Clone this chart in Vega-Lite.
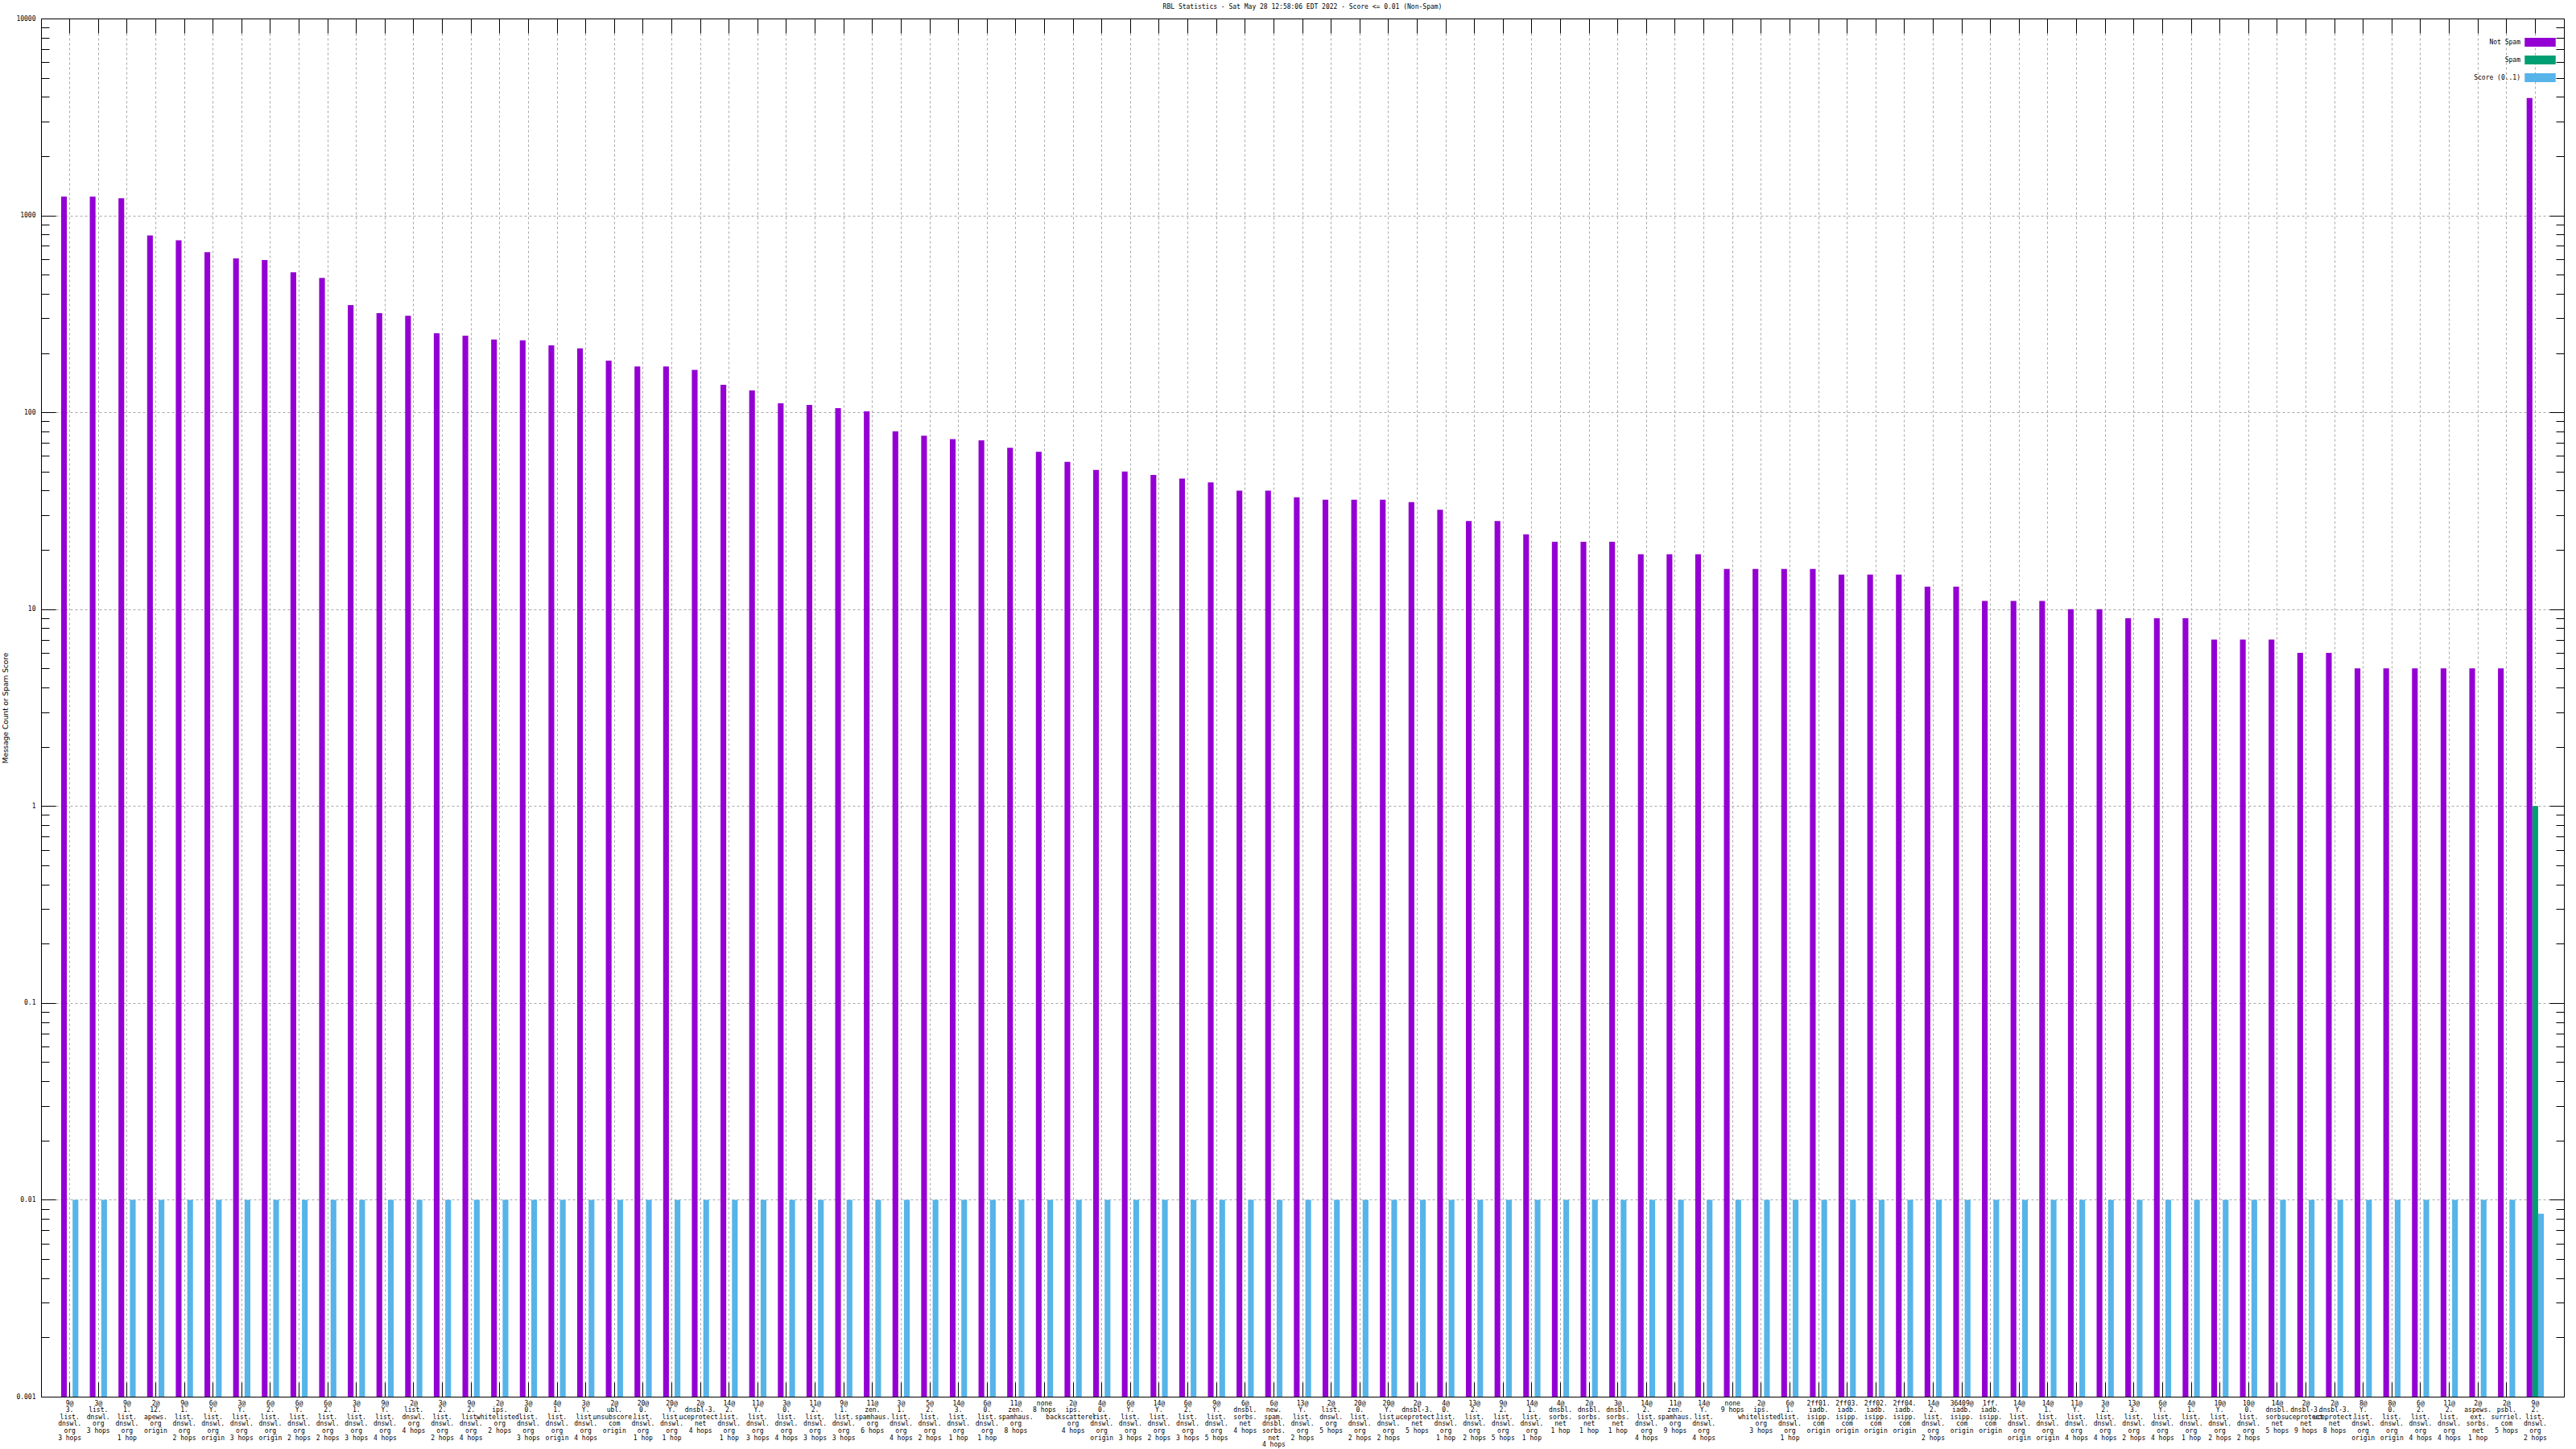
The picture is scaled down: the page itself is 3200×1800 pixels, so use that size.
{
  "$schema": "https://vega.github.io/schema/vega-lite/v6.json",
  "width": 3134,
  "height": 1712,
  "autosize": {"type": "none"},
  "padding": {"left": 51, "top": 23, "right": 15, "bottom": 65},
  "background": "white",
  "title": {"text": "RBL Statistics - Sat May 28 12:58:06 EDT 2022 - Score <= 0.01 (Non-Spam)", "font": "DejaVu Sans Mono", "fontSize": 8, "fontWeight": "normal", "color": "black", "anchor": "middle", "frame": "group", "offset": 6},
  "config": {"view": {"stroke": null}, "font": "DejaVu Sans Mono"},
  "data": {"values": [
    {"rbl": "9@3.list.dnswl.org 3 hops", "Not Spam": 1245, "Spam": 0, "Score": 0.01},
    {"rbl": "3@list.dnswl.org 3 hops", "Not Spam": 1245, "Spam": 0, "Score": 0.01},
    {"rbl": "9@1.list.dnswl.org 1 hop", "Not Spam": 1222, "Spam": 0, "Score": 0.01},
    {"rbl": "2@12.apews.org origin", "Not Spam": 791, "Spam": 0, "Score": 0.01},
    {"rbl": "9@1.list.dnswl.org 2 hops", "Not Spam": 748, "Spam": 0, "Score": 0.01},
    {"rbl": "6@Y.list.dnswl.org origin", "Not Spam": 650, "Spam": 0, "Score": 0.01},
    {"rbl": "3@Y.list.dnswl.org 3 hops", "Not Spam": 604, "Spam": 0, "Score": 0.01},
    {"rbl": "6@2.list.dnswl.org origin", "Not Spam": 593, "Spam": 0, "Score": 0.01},
    {"rbl": "6@Y.list.dnswl.org 2 hops", "Not Spam": 514, "Spam": 0, "Score": 0.01},
    {"rbl": "6@2.list.dnswl.org 2 hops", "Not Spam": 481, "Spam": 0, "Score": 0.01},
    {"rbl": "3@1.list.dnswl.org 3 hops", "Not Spam": 350, "Spam": 0, "Score": 0.01},
    {"rbl": "9@Y.list.dnswl.org 4 hops", "Not Spam": 319, "Spam": 0, "Score": 0.01},
    {"rbl": "2@list.dnswl.org 4 hops", "Not Spam": 309, "Spam": 0, "Score": 0.01},
    {"rbl": "3@2.list.dnswl.org 2 hops", "Not Spam": 252, "Spam": 0, "Score": 0.01},
    {"rbl": "9@2.list.dnswl.org 4 hops", "Not Spam": 245, "Spam": 0, "Score": 0.01},
    {"rbl": "2@ips.whitelisted.org 2 hops", "Not Spam": 234, "Spam": 0, "Score": 0.01},
    {"rbl": "3@0.list.dnswl.org 3 hops", "Not Spam": 232, "Spam": 0, "Score": 0.01},
    {"rbl": "4@1.list.dnswl.org origin", "Not Spam": 219, "Spam": 0, "Score": 0.01},
    {"rbl": "3@Y.list.dnswl.org 4 hops", "Not Spam": 211, "Spam": 0, "Score": 0.01},
    {"rbl": "2@ubl.unsubscore.com origin", "Not Spam": 183, "Spam": 0, "Score": 0.01},
    {"rbl": "20@0.list.dnswl.org 1 hop", "Not Spam": 171, "Spam": 0, "Score": 0.01},
    {"rbl": "20@Y.list.dnswl.org 1 hop", "Not Spam": 171, "Spam": 0, "Score": 0.01},
    {"rbl": "2@dnsbl-3.uceprotect.net 4 hops", "Not Spam": 164, "Spam": 0, "Score": 0.01},
    {"rbl": "14@2.list.dnswl.org 1 hop", "Not Spam": 138, "Spam": 0, "Score": 0.01},
    {"rbl": "11@Y.list.dnswl.org 3 hops", "Not Spam": 129, "Spam": 0, "Score": 0.01},
    {"rbl": "3@0.list.dnswl.org 4 hops", "Not Spam": 111, "Spam": 0, "Score": 0.01},
    {"rbl": "11@2.list.dnswl.org 3 hops", "Not Spam": 109, "Spam": 0, "Score": 0.01},
    {"rbl": "9@1.list.dnswl.org 3 hops", "Not Spam": 105, "Spam": 0, "Score": 0.01},
    {"rbl": "11@zen.spamhaus.org 6 hops", "Not Spam": 101, "Spam": 0, "Score": 0.01},
    {"rbl": "3@1.list.dnswl.org 4 hops", "Not Spam": 80, "Spam": 0, "Score": 0.01},
    {"rbl": "5@2.list.dnswl.org 2 hops", "Not Spam": 76, "Spam": 0, "Score": 0.01},
    {"rbl": "14@3.list.dnswl.org 1 hop", "Not Spam": 73, "Spam": 0, "Score": 0.01},
    {"rbl": "6@0.list.dnswl.org 1 hop", "Not Spam": 72, "Spam": 0, "Score": 0.01},
    {"rbl": "11@zen.spamhaus.org 8 hops", "Not Spam": 66, "Spam": 0, "Score": 0.01},
    {"rbl": "none 8 hops", "Not Spam": 63, "Spam": 0, "Score": 0.01},
    {"rbl": "2@ips.backscatterer.org 4 hops", "Not Spam": 56, "Spam": 0, "Score": 0.01},
    {"rbl": "4@0.list.dnswl.org origin", "Not Spam": 51, "Spam": 0, "Score": 0.01},
    {"rbl": "6@Y.list.dnswl.org 3 hops", "Not Spam": 50, "Spam": 0, "Score": 0.01},
    {"rbl": "14@Y.list.dnswl.org 2 hops", "Not Spam": 48, "Spam": 0, "Score": 0.01},
    {"rbl": "6@2.list.dnswl.org 3 hops", "Not Spam": 46, "Spam": 0, "Score": 0.01},
    {"rbl": "9@Y.list.dnswl.org 5 hops", "Not Spam": 44, "Spam": 0, "Score": 0.01},
    {"rbl": "6@dnsbl.sorbs.net 4 hops", "Not Spam": 40, "Spam": 0, "Score": 0.01},
    {"rbl": "6@new.spam.dnsbl.sorbs.net 4 hops", "Not Spam": 40, "Spam": 0, "Score": 0.01},
    {"rbl": "13@Y.list.dnswl.org 2 hops", "Not Spam": 37, "Spam": 0, "Score": 0.01},
    {"rbl": "2@list.dnswl.org 5 hops", "Not Spam": 36, "Spam": 0, "Score": 0.01},
    {"rbl": "20@0.list.dnswl.org 2 hops", "Not Spam": 36, "Spam": 0, "Score": 0.01},
    {"rbl": "20@Y.list.dnswl.org 2 hops", "Not Spam": 36, "Spam": 0, "Score": 0.01},
    {"rbl": "2@dnsbl-3.uceprotect.net 5 hops", "Not Spam": 35, "Spam": 0, "Score": 0.01},
    {"rbl": "4@0.list.dnswl.org 1 hop", "Not Spam": 32, "Spam": 0, "Score": 0.01},
    {"rbl": "13@2.list.dnswl.org 2 hops", "Not Spam": 28, "Spam": 0, "Score": 0.01},
    {"rbl": "9@2.list.dnswl.org 5 hops", "Not Spam": 28, "Spam": 0, "Score": 0.01},
    {"rbl": "14@1.list.dnswl.org 1 hop", "Not Spam": 24, "Spam": 0, "Score": 0.01},
    {"rbl": "4@dnsbl.sorbs.net 1 hop", "Not Spam": 22, "Spam": 0, "Score": 0.01},
    {"rbl": "2@dnsbl.sorbs.net 1 hop", "Not Spam": 22, "Spam": 0, "Score": 0.01},
    {"rbl": "3@dnsbl.sorbs.net 1 hop", "Not Spam": 22, "Spam": 0, "Score": 0.01},
    {"rbl": "14@2.list.dnswl.org 4 hops", "Not Spam": 19, "Spam": 0, "Score": 0.01},
    {"rbl": "11@zen.spamhaus.org 9 hops", "Not Spam": 19, "Spam": 0, "Score": 0.01},
    {"rbl": "14@Y.list.dnswl.org 4 hops", "Not Spam": 19, "Spam": 0, "Score": 0.01},
    {"rbl": "none 9 hops", "Not Spam": 16, "Spam": 0, "Score": 0.01},
    {"rbl": "2@ips.whitelisted.org 3 hops", "Not Spam": 16, "Spam": 0, "Score": 0.01},
    {"rbl": "6@1.list.dnswl.org 1 hop", "Not Spam": 16, "Spam": 0, "Score": 0.01},
    {"rbl": "2ff01.iadb.isipp.com origin", "Not Spam": 16, "Spam": 0, "Score": 0.01},
    {"rbl": "2ff03.iadb.isipp.com origin", "Not Spam": 15, "Spam": 0, "Score": 0.01},
    {"rbl": "2ff02.iadb.isipp.com origin", "Not Spam": 15, "Spam": 0, "Score": 0.01},
    {"rbl": "2ff04.iadb.isipp.com origin", "Not Spam": 15, "Spam": 0, "Score": 0.01},
    {"rbl": "14@2.list.dnswl.org 2 hops", "Not Spam": 13, "Spam": 0, "Score": 0.01},
    {"rbl": "36409@iadb.isipp.com origin", "Not Spam": 13, "Spam": 0, "Score": 0.01},
    {"rbl": "1ff.iadb.isipp.com origin", "Not Spam": 11, "Spam": 0, "Score": 0.01},
    {"rbl": "14@Y.list.dnswl.org origin", "Not Spam": 11, "Spam": 0, "Score": 0.01},
    {"rbl": "14@1.list.dnswl.org origin", "Not Spam": 11, "Spam": 0, "Score": 0.01},
    {"rbl": "11@Y.list.dnswl.org 4 hops", "Not Spam": 10, "Spam": 0, "Score": 0.01},
    {"rbl": "3@2.list.dnswl.org 4 hops", "Not Spam": 10, "Spam": 0, "Score": 0.01},
    {"rbl": "13@3.list.dnswl.org 2 hops", "Not Spam": 9, "Spam": 0, "Score": 0.01},
    {"rbl": "6@Y.list.dnswl.org 4 hops", "Not Spam": 9, "Spam": 0, "Score": 0.01},
    {"rbl": "4@1.list.dnswl.org 1 hop", "Not Spam": 9, "Spam": 0, "Score": 0.01},
    {"rbl": "10@Y.list.dnswl.org 2 hops", "Not Spam": 7, "Spam": 0, "Score": 0.01},
    {"rbl": "10@0.list.dnswl.org 2 hops", "Not Spam": 7, "Spam": 0, "Score": 0.01},
    {"rbl": "14@dnsbl.sorbs.net 5 hops", "Not Spam": 7, "Spam": 0, "Score": 0.01},
    {"rbl": "2@dnsbl-3.uceprotect.net 9 hops", "Not Spam": 6, "Spam": 0, "Score": 0.01},
    {"rbl": "2@dnsbl-3.uceprotect.net 8 hops", "Not Spam": 6, "Spam": 0, "Score": 0.01},
    {"rbl": "8@Y.list.dnswl.org origin", "Not Spam": 5, "Spam": 0, "Score": 0.01},
    {"rbl": "8@0.list.dnswl.org origin", "Not Spam": 5, "Spam": 0, "Score": 0.01},
    {"rbl": "6@2.list.dnswl.org 4 hops", "Not Spam": 5, "Spam": 0, "Score": 0.01},
    {"rbl": "11@2.list.dnswl.org 4 hops", "Not Spam": 5, "Spam": 0, "Score": 0.01},
    {"rbl": "2@aspews.ext.sorbs.net 1 hop", "Not Spam": 5, "Spam": 0, "Score": 0.01},
    {"rbl": "2@psbl.surriel.com 5 hops", "Not Spam": 5, "Spam": 0, "Score": 0.01},
    {"rbl": "9@2.list.dnswl.org 2 hops", "Not Spam": 3950, "Spam": 1, "Score": 0.0085}
  ]},
  "transform": [
    {"fold": ["Not Spam", "Spam", "Score"], "as": ["series", "value"]},
    {"filter": "datum.value > 0"}
  ],
  "layer": [
    {
      "mark": {"type": "bar"},
      "encoding": {
        "x": {"field": "rbl", "type": "nominal", "sort": null,
          "scale": {"type": "band", "paddingInner": 0, "paddingOuter": 0.5},
          "axis": {"orient": "bottom", "title": null, "tickSize": -18, "tickColor": "black", "domainColor": "black", "bandPosition": 0.5,
            "grid": true, "gridColor": "#a8a8a8", "gridDash": [3, 3], "labelAngle": 0, "labelFont": "DejaVu Sans Mono", "labelFontSize": 8,
            "labelColor": "black", "labelLineHeight": 8.6, "labelBaseline": "top", "labelAlign": "center", "labelPadding": 22,
            "labelOverlap": false, "labelBound": false, "labelFlush": false, "labelLimit": 0,
            "labelExpr": "split(replace(replace(datum.label, regexp('([@.])', 'g'), '$1|'), ' ', '|'), '|')"}},
        "xOffset": {"field": "series", "type": "nominal", "sort": ["Not Spam", "Spam", "Score"],
          "scale": {"type": "band", "paddingInner": 0, "paddingOuter": 1}},
        "y": {"field": "value", "type": "quantitative", "stack": null,
          "scale": {"type": "log", "domain": [0.001, 10000], "nice": false},
          "axis": {"orient": "left", "values": [0.001, 0.01, 0.1, 1, 10, 100, 1000, 10000], "format": "~g",
            "tickSize": -18, "tickColor": "black", "domainColor": "black", "labelFont": "DejaVu Sans Mono", "labelFontSize": 8,
            "labelColor": "black", "labelPadding": 25, "grid": true, "gridColor": "#a8a8a8", "gridDash": [3, 3],
            "title": "Message Count or Spam Score", "titleFont": "DejaVu Sans", "titleFontSize": 9, "titleFontWeight": "normal",
            "titleColor": "black", "titlePadding": 8}},
        "color": {"field": "series", "type": "nominal",
          "scale": {"domain": ["Not Spam", "Spam", "Score"], "range": ["#9400d3", "#009e73", "#56b4e9"]},
          "legend": {"orient": "top-right", "offset": 10, "padding": 0, "title": " ", "titleFontSize": 10, "titlePadding": 4,
            "symbolType": "M-3.5,-1L3.5,-1L3.5,1L-3.5,1Z", "symbolSize": 121, "symbolStrokeWidth": 0, "symbolOpacity": 1,
            "labelFont": "DejaVu Sans Mono", "labelFontSize": 8, "labelColor": "black", "labelAlign": "right", "labelOffset": -30,
            "rowPadding": 11, "labelExpr": "datum.label == 'Score' ? 'Score (0..1)' : datum.label"}}
      }
    },
    {
      "mark": {"type": "bar", "opacity": 0},
      "encoding": {
        "x": {"field": "rbl", "type": "nominal", "sort": null,
          "scale": {"type": "band", "paddingInner": 0, "paddingOuter": 0.5},
          "axis": {"orient": "top", "title": null, "labels": false, "grid": false, "tickSize": -18, "tickColor": "black", "domainColor": "black", "bandPosition": 0.5}},
        "y": {"field": "value", "type": "quantitative", "stack": null,
          "scale": {"type": "log", "domain": [0.001, 10000], "nice": false},
          "axis": {"orient": "right", "values": [0.001, 0.01, 0.1, 1, 10, 100, 1000, 10000], "title": null, "labels": false, "grid": false,
            "tickSize": -18, "tickColor": "black", "domainColor": "black"}}
      }
    },
    {
      "mark": {"type": "bar", "opacity": 0},
      "encoding": {
        "x": {"field": "rbl", "type": "nominal", "sort": null, "scale": {"type": "band", "paddingInner": 0, "paddingOuter": 0.5}, "axis": null},
        "y": {"field": "value", "type": "quantitative", "stack": null,
          "scale": {"type": "log", "domain": [0.001, 10000], "nice": false},
          "axis": {"orient": "left", "values": [0.002, 0.003, 0.004, 0.005, 0.006, 0.007, 0.008, 0.009, 0.02, 0.03, 0.04, 0.05, 0.06, 0.07, 0.08, 0.09, 0.2, 0.3, 0.4, 0.5, 0.6, 0.7, 0.8, 0.9, 2, 3, 4, 5, 6, 7, 8, 9, 20, 30, 40, 50, 60, 70, 80, 90, 200, 300, 400, 500, 600, 700, 800, 900, 2000, 3000, 4000, 5000, 6000, 7000, 8000, 9000],
            "title": null, "labels": false, "grid": false, "domain": false, "tickSize": -10, "tickColor": "black"}}
      }
    },
    {
      "mark": {"type": "bar", "opacity": 0},
      "encoding": {
        "x": {"field": "rbl", "type": "nominal", "sort": null, "scale": {"type": "band", "paddingInner": 0, "paddingOuter": 0.5}, "axis": null},
        "y": {"field": "value", "type": "quantitative", "stack": null,
          "scale": {"type": "log", "domain": [0.001, 10000], "nice": false},
          "axis": {"orient": "right", "values": [0.002, 0.003, 0.004, 0.005, 0.006, 0.007, 0.008, 0.009, 0.02, 0.03, 0.04, 0.05, 0.06, 0.07, 0.08, 0.09, 0.2, 0.3, 0.4, 0.5, 0.6, 0.7, 0.8, 0.9, 2, 3, 4, 5, 6, 7, 8, 9, 20, 30, 40, 50, 60, 70, 80, 90, 200, 300, 400, 500, 600, 700, 800, 900, 2000, 3000, 4000, 5000, 6000, 7000, 8000, 9000],
            "title": null, "labels": false, "grid": false, "domain": false, "tickSize": -10, "tickColor": "black"}}
      }
    }
  ],
  "resolve": {"axis": {"x": "independent", "y": "independent"}}
}
